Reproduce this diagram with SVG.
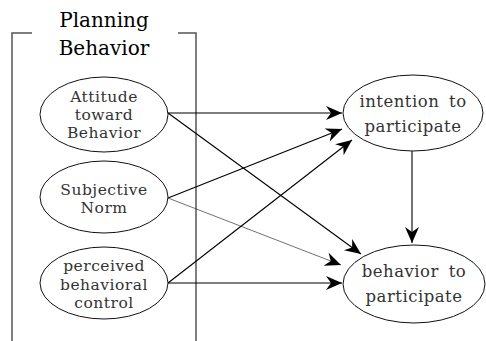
<svg xmlns="http://www.w3.org/2000/svg" width="486" height="341" viewBox="0 0 486 341">
<style>
.node ellipse{fill:#fff;stroke:#111;stroke-width:1}
text{font-family:"DejaVu Serif","Liberation Serif",serif;font-size:15.5px;letter-spacing:0.5px;fill:#333;text-anchor:middle}
.title{font-size:20px;letter-spacing:0;fill:#000}
.big{font-size:16.5px}
.bracket{fill:none;stroke:#555;stroke-width:1.5}
.edges line{stroke:#000;stroke-width:1.1}
.edges line.thin{stroke:#333;stroke-width:0.7}
</style>
<defs>
<marker id="ah" markerUnits="userSpaceOnUse" markerWidth="20" markerHeight="20" viewBox="-18 -10 20 20" refX="0" refY="0" orient="auto">
<path d="M0,0 L-16,-7 L-11,0 L-16,7 Z" fill="#000"/>
</marker>
</defs>
<g id="bracket">
<path class="bracket" d="M32,33 H12 V341"/>
<path class="bracket" d="M178,33 H196 V341"/>
<text class="title" x="104" y="27">Planning</text>
<text class="title" x="104" y="55">Behavior</text>
</g>
<g class="edges">
<line x1="168" y1="113" x2="342" y2="113" marker-end="url(#ah)"/>
<line x1="168" y1="113" x2="361" y2="254" marker-end="url(#ah)"/>
<line x1="168" y1="198" x2="342" y2="129" marker-end="url(#ah)"/>
<line class="thin" x1="168" y1="198" x2="341" y2="265" marker-end="url(#ah)"/>
<line x1="168" y1="283" x2="352" y2="140" marker-end="url(#ah)"/>
<line x1="168" y1="283" x2="342" y2="283" marker-end="url(#ah)"/>
<line x1="412" y1="151" x2="412" y2="243" marker-end="url(#ah)"/>
</g>
<g id="attitude" class="node">
<ellipse cx="104" cy="114.5" rx="64" ry="37.5"/>
<text x="104" y="102">Attitude</text>
<text x="104" y="120">toward</text>
<text x="104" y="138">Behavior</text>
</g>
<g id="subjective" class="node">
<ellipse cx="104" cy="197" rx="64" ry="36"/>
<text x="104" y="195">Subjective</text>
<text x="104" y="213">Norm</text>
</g>
<g id="perceived" class="node">
<ellipse cx="104" cy="283" rx="64" ry="36"/>
<text x="104" y="271">perceived</text>
<text x="104" y="290">behavioral</text>
<text x="104" y="308">control</text>
</g>
<g id="intention" class="node">
<ellipse cx="413" cy="113" rx="70" ry="38"/>
<text class="big" x="413" y="107" word-spacing="4">intention to</text>
<text class="big" x="413" y="132">participate</text>
</g>
<g id="behavior" class="node">
<ellipse cx="414" cy="284" rx="71" ry="39"/>
<text class="big" x="414" y="277" word-spacing="4">behavior to</text>
<text class="big" x="414" y="302">participate</text>
</g>
</svg>
